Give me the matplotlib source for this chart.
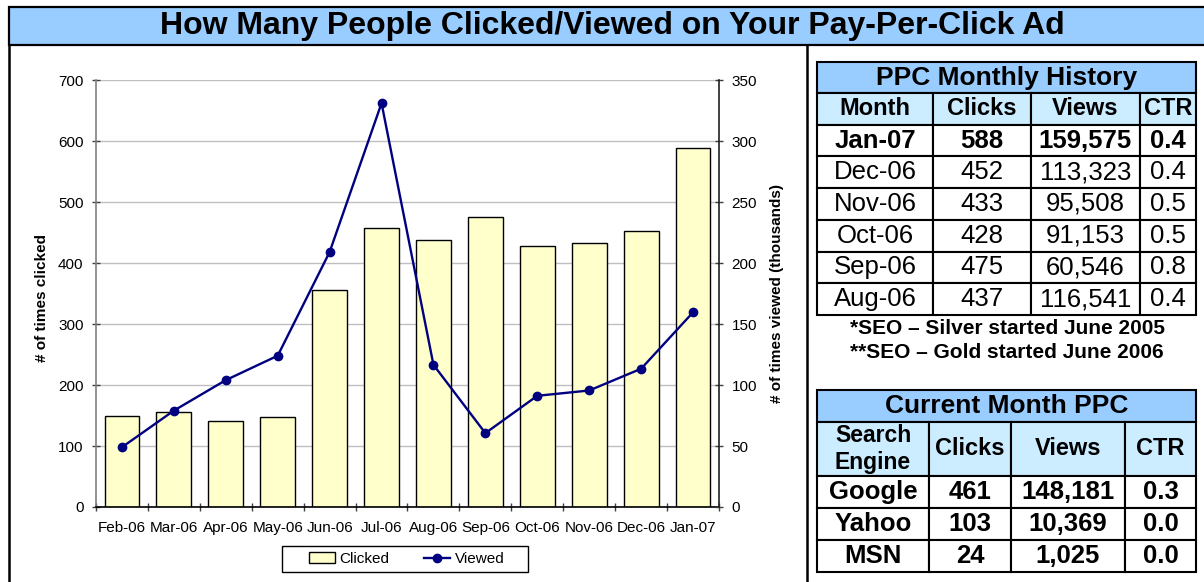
import matplotlib
matplotlib.use("Agg")
import matplotlib.pyplot as plt
from matplotlib.patches import Rectangle
from matplotlib.lines import Line2D

plt.rcParams['font.family'] = ['Liberation Sans', 'DejaVu Sans']

# ---------------- data ----------------
months = ['Feb-06', 'Mar-06', 'Apr-06', 'May-06', 'Jun-06', 'Jul-06',
          'Aug-06', 'Sep-06', 'Oct-06', 'Nov-06', 'Dec-06', 'Jan-07']
clicked = [150, 155, 141, 147, 355, 457, 437, 475, 428, 433, 452, 588]
viewed_k = [49, 79, 104, 124, 209, 331, 116.541, 60.546, 91.153, 95.508,
            113.323, 159.575]

left_ticks = [0, 100, 200, 300, 400, 500, 600, 700]
right_ticks = [0, 50, 100, 150, 200, 250, 300, 350]

hist_months = ['Jan-07', 'Dec-06', 'Nov-06', 'Oct-06', 'Sep-06', 'Aug-06']
hist_clicks = [588, 452, 433, 428, 475, 437]
hist_views = [159575, 113323, 95508, 91153, 60546, 116541]
hist_ctr = [0.4, 0.4, 0.5, 0.5, 0.8, 0.4]
hist_header = ['Month', 'Clicks', 'Views', 'CTR']

engines = ['Google', 'Yahoo', 'MSN']
eng_clicks = [461, 103, 24]
eng_views = [148181, 10369, 1025]
eng_ctr = [0.3, 0.0, 0.0]
eng_header = ['Search\nEngine', 'Clicks', 'Views', 'CTR']

title = 'How Many People Clicked/Viewed on Your Pay-Per-Click Ad'
notes = ['*SEO \u2013 Silver started June 2005', '**SEO \u2013 Gold started June 2006']

# ---------------- layout helpers ----------------
W, H = 1204, 582
fig = plt.figure(figsize=(W / 100, H / 100), dpi=100)
fig.patch.set_facecolor('white')


def fx(x):
    return x / W


def fy(y):
    return 1 - y / H


def box(x0, y0, x1, y1):
    return [fx(x0), fy(y1), (x1 - x0) / W, (y1 - y0) / H]


BLUE = '#99CCFF'
LIGHT = '#CCECFF'
NAVY = '#000080'

# ---------------- main chart ----------------
ax1 = fig.add_axes(box(96, 80, 719, 507))
x = list(range(len(months)))
bars = ax1.bar(x, clicked, width=0.67, color='#FFFFCC', edgecolor='black',
               linewidth=1.0, zorder=2)
ax1.set_xlim(-0.5, len(months) - 0.5)
ax1.set_ylim(0, 700)
ax1.set_yticks(left_ticks)
ax1.yaxis.grid(True, color='#C0C0C0', linewidth=1.0)
ax1.set_axisbelow(True)
ax1.set_xticks([i - 0.5 for i in range(len(months) + 1)])
ax1.set_xticklabels([])
ax1.set_xticks(x, months, minor=True)
ax1.tick_params(axis='x', which='major', direction='inout', length=6,
                width=1, color='#404040')
ax1.tick_params(axis='x', which='minor', length=0, pad=10, labelsize=11)
ax1.tick_params(axis='y', direction='inout', length=6, width=1,
                color='#404040', labelsize=11, pad=6)
for s in ['top', 'right']:
    ax1.spines[s].set_visible(False)
ax1.spines['left'].set_color('#808080')
ax1.spines['left'].set_linewidth(1.2)
ax1.spines['bottom'].set_color('black')
ax1.spines['bottom'].set_linewidth(1.2)
ax1.set_ylabel('# of times clicked', fontsize=11, fontweight='bold')
ax1.yaxis.set_label_coords((49 - 96) / (719 - 96), 0.49)

ax2 = ax1.twinx()
line, = ax2.plot(x, viewed_k, color=NAVY, linewidth=1.7, marker='o',
                 markersize=6, zorder=3)
ax2.set_ylim(0, 350)
ax2.set_yticks(right_ticks)
ax2.tick_params(axis='y', direction='inout', length=6, width=1,
                color='#404040', labelsize=11, pad=6)
for s in ['top', 'left', 'bottom']:
    ax2.spines[s].set_visible(False)
ax2.spines['right'].set_color('#202020')
ax2.spines['right'].set_linewidth(1.2)
ax2.set_ylabel('# of times viewed (thousands)', fontsize=11, fontweight='bold')
ax2.yaxis.set_label_coords(1 + (770 - 719) / (719 - 96), 0.5)

leg = ax1.legend([bars, line], ['Clicked', 'Viewed'], loc='center',
                 bbox_to_anchor=(fx(304), fy(572), (509 - 304) / W, 26 / H),
                 bbox_transform=fig.transFigure, mode='expand', ncol=2,
                 frameon=False, borderaxespad=0, borderpad=0.3,
                 handlelength=1.7, handletextpad=0.3, fontsize=11)
fig.add_artist(Rectangle((fx(282), fy(572)), (528 - 282) / W, 26 / H,
                         transform=fig.transFigure, fill=False,
                         edgecolor='black', linewidth=1.0))

# ---------------- overlay (frame, title, tables) ----------------
ov = fig.add_axes([0, 0, 1, 1])
ov.set_xlim(0, 1)
ov.set_ylim(0, 1)
ov.axis('off')

ov.add_patch(Rectangle((fx(9), fy(45)), 1.05, (45 - 7) / H, facecolor=BLUE,
                       edgecolor='black', linewidth=1.6, zorder=1))
ov.add_line(Line2D([fx(9), fx(9)], [fy(45), 0], color='black', linewidth=1.8))
ov.add_line(Line2D([fx(807), fx(807)], [fy(45), 0], color='black', linewidth=1.8))
ov.text(fx(612), fy(26), title, ha='center', va='center', fontsize=23,
        fontweight='bold', zorder=2)


def make_table(rows, colw, bbox, face, sizes, weights, lw=1.5):
    t = ov.table(cellText=rows, cellLoc='center', colWidths=colw, bbox=bbox)
    t.auto_set_font_size(False)
    for (r, c), cell in t.get_celld().items():
        cell.set_linewidth(lw)
        cell.set_edgecolor('black')
        cell.set_facecolor(face[r] if isinstance(face, list) else face)
        txt = cell.get_text()
        txt.set_fontsize(sizes[r] if isinstance(sizes, list) else sizes)
        txt.set_fontweight(weights[r] if isinstance(weights, list) else weights)
    return t


# table 1: PPC monthly history
c1 = [817, 933, 1031, 1140, 1196]
w1 = [c1[i + 1] - c1[i] for i in range(4)]
make_table([['PPC Monthly History']], [1], box(817, 62, 1196, 93), BLUE,
           19, 'bold')
hist_rows = [hist_header] + [
    [m, f'{c}', f'{v:,}', f'{r:.1f}']
    for m, c, v, r in zip(hist_months, hist_clicks, hist_views, hist_ctr)]
make_table(hist_rows, w1, box(817, 93, 1196, 315),
           [LIGHT] + ['white'] * len(hist_months),
           [17] + [18.5] * len(hist_months),
           ['bold', 'bold'] + ['normal'] * (len(hist_months) - 1))
for k, note in enumerate(notes):
    ov.text(fx(1007), fy(329 + 24 * k), note, ha='center', va='center',
            fontsize=15, fontweight='bold')

# table 2: current month PPC
c2 = [817, 929, 1011, 1125, 1196]
w2 = [c2[i + 1] - c2[i] for i in range(4)]
make_table([['Current Month PPC']], [1], box(817, 390, 1196, 421.5), BLUE,
           19, 'bold')
t2h = make_table([eng_header], w2, box(817, 421.5, 1196, 476), LIGHT, 17,
                 'bold')
t2h[0, 0].get_text().set_fontsize(16.5)
eng_rows = [[e, f'{c}', f'{v:,}', f'{r:.1f}']
            for e, c, v, r in zip(engines, eng_clicks, eng_views, eng_ctr)]
make_table(eng_rows, w2, box(817, 476, 1196, 572), 'white', 18.5, 'bold')

fig.savefig('out.png', dpi=100)
